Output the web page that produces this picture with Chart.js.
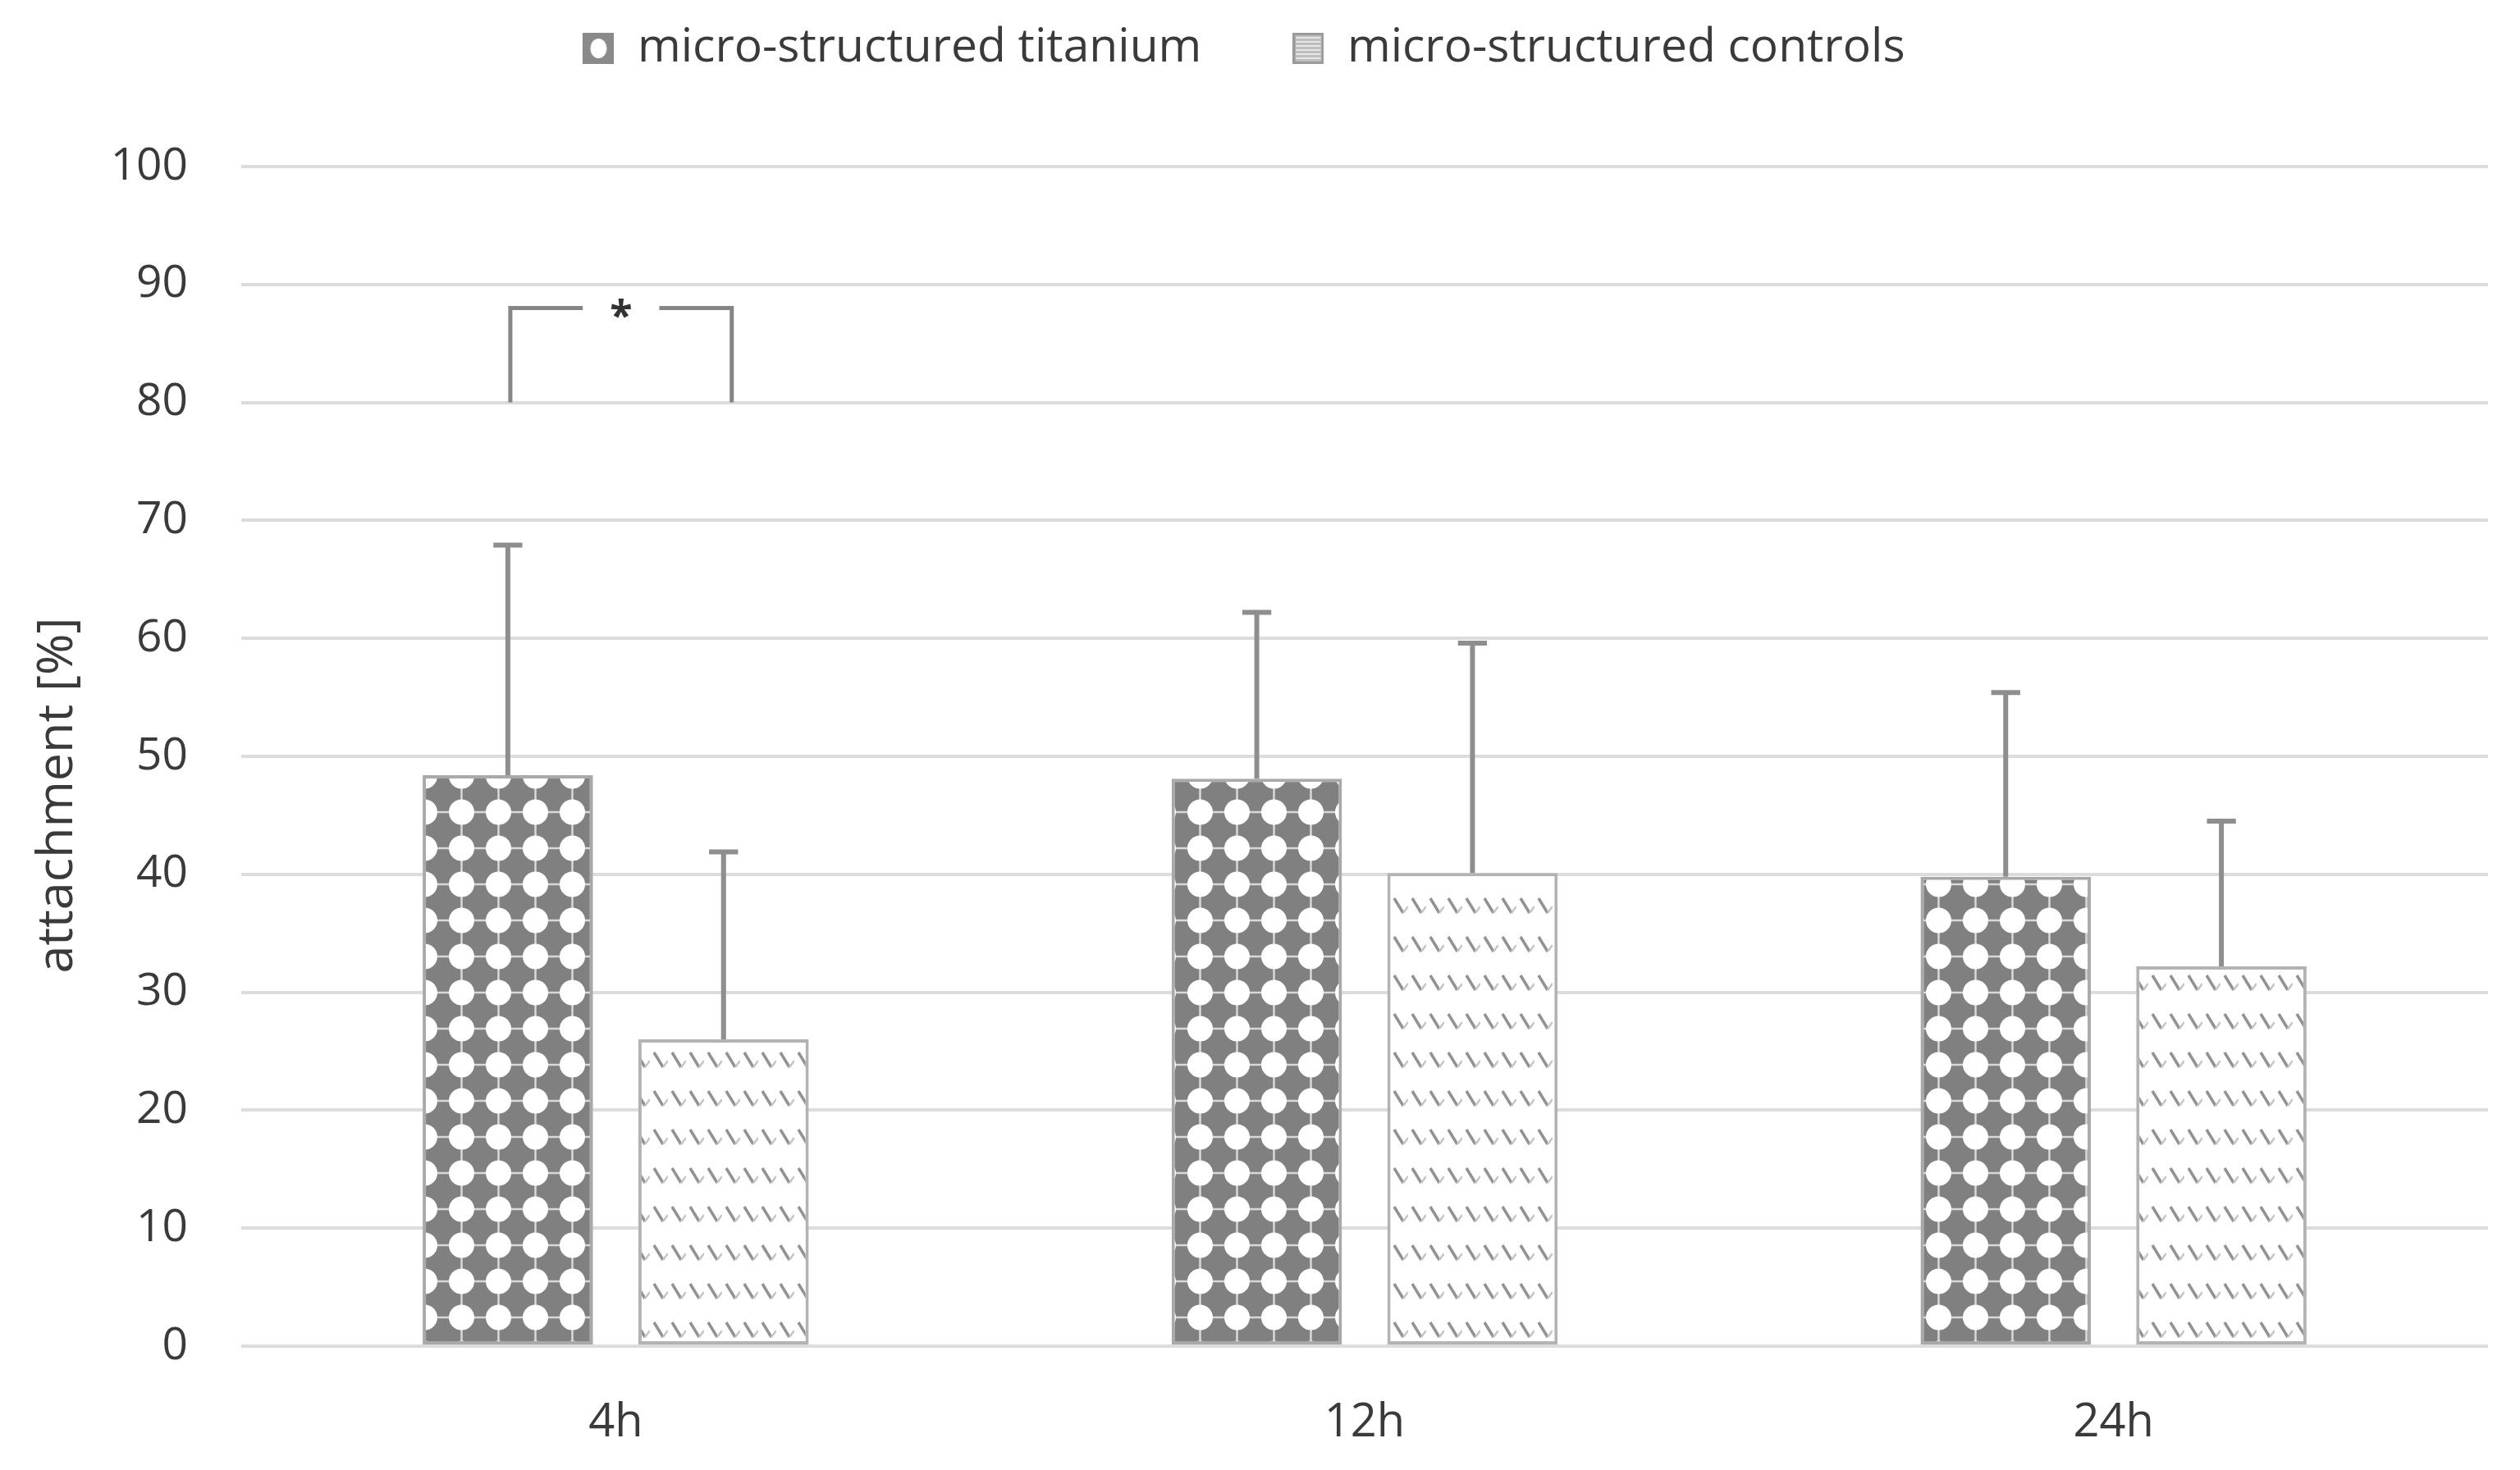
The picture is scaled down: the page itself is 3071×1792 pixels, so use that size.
<!DOCTYPE html>
<html>
<head>
<meta charset="utf-8">
<script src="https://cdn.jsdelivr.net/npm/chart.js@4.4.1/dist/chart.umd.min.js"></script>
<style>
html,body{margin:0;padding:0;background:#ffffff;}
canvas{display:block;}
</style>
</head>
<body>
<canvas id="c" width="3071" height="1792" style="width:3071px;height:1792px"></canvas>
<script>
// ---------------- data ----------------
const categories = ['4h', '12h', '24h'];
const seriesNames = ['micro-structured titanium', 'micro-structured controls'];
const titaniumMeans = [48.4, 48.1, 39.8];
const titaniumSD = [19.5, 14.1, 15.6];
const controlsMeans = [26.0, 40.1, 32.2];
const controlsSD = [15.9, 19.5, 12.3];
const yTickValues = [0, 10, 20, 30, 40, 50, 60, 70, 80, 90, 100];
const yAxisTitle = 'attachment [%]';
const significance = [
  { index: 0, fromSeries: 0, toSeries: 1, low: 80, high: 88, label: '*' }
];

// ---------------- styling ----------------
const FONT = "'Open Sans', sans-serif";
Chart.defaults.font.family = FONT;
const LEGEND_CENTER_Y = 59;
const ERR_COLOR = '#8e8e8e';

const canvas = document.getElementById('c');
const ctx = canvas.getContext('2d');

function makeTitaniumPattern() {
  const w = 45, h = 44;
  const t = document.createElement('canvas'); t.width = w; t.height = h;
  const g = t.getContext('2d');
  g.fillStyle = '#808080'; g.fillRect(0, 0, w, h);
  g.strokeStyle = 'rgba(255,255,255,0.7)'; g.lineWidth = 2.5;
  g.beginPath(); g.moveTo(0, h / 2); g.lineTo(w, h / 2); g.moveTo(w / 2, 0); g.lineTo(w / 2, h); g.stroke();
  g.fillStyle = '#ffffff';
  g.beginPath(); g.arc(w / 2, h / 2, 15.5, 0, Math.PI * 2); g.fill();
  return ctx.createPattern(t, 'repeat');
}
function makeControlsPattern() {
  const w = 22, h = 47;
  const t = document.createElement('canvas'); t.width = w; t.height = h;
  const g = t.getContext('2d');
  g.fillStyle = '#ffffff'; g.fillRect(0, 0, w, h);
  g.strokeStyle = '#929292'; g.lineWidth = 3.5;
  g.beginPath(); g.moveTo(5, 14); g.lineTo(16, 32); g.stroke();
  g.strokeStyle = '#c4c4c4'; g.lineWidth = 2.5;
  g.beginPath(); g.moveTo(16, 32); g.lineTo(22, 24); g.stroke();
  return ctx.createPattern(t, 'repeat');
}
function makeTitaniumIcon() {
  const s = 38;
  const t = document.createElement('canvas'); t.width = s; t.height = s;
  const g = t.getContext('2d');
  g.fillStyle = '#8a8a8a'; g.fillRect(0, 0, s, s);
  g.fillStyle = '#ffffff';
  g.beginPath(); g.ellipse(s / 2, s / 2, 10, 12, 0, 0, Math.PI * 2); g.fill();
  return t;
}
function makeControlsIcon() {
  const s = 38;
  const t = document.createElement('canvas'); t.width = s; t.height = s;
  const g = t.getContext('2d');
  g.fillStyle = '#bdbdbd'; g.fillRect(0, 0, s, s);
  g.strokeStyle = '#e6e6e6'; g.lineWidth = 2;
  for (let y = 6; y < s - 3; y += 5) { g.beginPath(); g.moveTo(4, y); g.lineTo(s - 4, y); g.stroke(); }
  g.strokeStyle = '#9a9a9a'; g.lineWidth = 3; g.strokeRect(1.5, 1.5, s - 3, s - 3);
  return t;
}

// ---------------- plugins ----------------
const legendShift = {
  id: 'legendShift',
  afterLayout(chart) {
    const lg = chart.legend;
    if (!lg) return;
    const pad = lg.options.labels.padding;
    const fs = lg.options.labels.font.size;
    const dy = (lg.top + pad + fs / 2) - LEGEND_CENTER_Y;
    lg.top -= dy; lg.bottom -= dy;
  }
};

const errorBars = {
  id: 'errorBars',
  afterDatasetsDraw(chart) {
    const c = chart.ctx;
    const ys = chart.scales.y;
    chart.data.datasets.forEach((ds, di) => {
      const meta = chart.getDatasetMeta(di);
      meta.data.forEach((bar, i) => {
        const top = ys.getPixelForValue(ds.data[i] + ds.errors[i]);
        const capHalf = bar.width * 0.085;
        c.save();
        c.strokeStyle = ERR_COLOR; c.lineWidth = 6; c.lineCap = 'butt';
        c.beginPath();
        c.moveTo(bar.x, bar.y); c.lineTo(bar.x, top);
        c.moveTo(bar.x - capHalf, top); c.lineTo(bar.x + capHalf, top);
        c.stroke();
        c.restore();
      });
    });
  }
};

const bracket = {
  id: 'bracket',
  afterDatasetsDraw(chart) {
    const c = chart.ctx;
    const ys = chart.scales.y;
    significance.forEach(s => {
      const x0 = chart.getDatasetMeta(s.fromSeries).data[s.index].x + 3;
      const x1 = chart.getDatasetMeta(s.toSeries).data[s.index].x + 10;
      const yl = ys.getPixelForValue(s.low);
      const yh = ys.getPixelForValue(s.high);
      const mid = (x0 + x1) / 2;
      const fs = 50;
      c.save();
      c.font = `bold ${fs}px ${FONT}`;
      const gap = c.measureText(s.label).width + 66;
      c.strokeStyle = '#858585'; c.lineWidth = 5;
      c.beginPath();
      c.moveTo(x0, yl); c.lineTo(x0, yh); c.lineTo(mid - gap / 2, yh);
      c.moveTo(mid + gap / 2, yh); c.lineTo(x1, yh); c.lineTo(x1, yl);
      c.stroke();
      c.fillStyle = '#333333'; c.textAlign = 'center'; c.textBaseline = 'alphabetic';
      c.fillText(s.label, mid, yh + fs * 0.52);
      c.restore();
    });
  }
};

// ---------------- chart ----------------
const titaniumIcon = makeTitaniumIcon();
const controlsIcon = makeControlsIcon();

new Chart(ctx, {
  type: 'bar',
  data: {
    labels: categories,
    datasets: [
      {
        label: seriesNames[0], data: titaniumMeans, errors: titaniumSD, icon: titaniumIcon,
        backgroundColor: makeTitaniumPattern(), borderColor: '#a9a9a9', borderWidth: 4, borderSkipped: false,
        categoryPercentage: 0.576, barPercentage: 0.79
      },
      {
        label: seriesNames[1], data: controlsMeans, errors: controlsSD, icon: controlsIcon,
        backgroundColor: makeControlsPattern(), borderColor: '#b3b3b3', borderWidth: 4, borderSkipped: false,
        categoryPercentage: 0.576, barPercentage: 0.79
      }
    ]
  },
  options: {
    responsive: false, animation: false, devicePixelRatio: 1,
    layout: { padding: { top: 25, right: 39, bottom: 0, left: 0 } },
    plugins: {
      legend: {
        position: 'top',
        labels: {
          usePointStyle: true, boxWidth: 38, boxHeight: 38, padding: 111,
          font: { size: 57 }, color: '#3a3a3a',
          generateLabels(chart) {
            return chart.data.datasets.map((ds, i) => ({
              text: ds.label, pointStyle: ds.icon, fillStyle: '#ffffff', strokeStyle: '#ffffff',
              lineWidth: 0, hidden: false, datasetIndex: i, fontColor: '#3a3a3a'
            }));
          }
        }
      },
      tooltip: { enabled: false }
    },
    scales: {
      x: {
        grid: { display: false }, border: { display: false },
        ticks: { font: { size: 56 }, color: '#3a3a3a', padding: 52 },
        afterFit(s) { s.height = 151; }
      },
      y: {
        min: 0, max: 100,
        afterBuildTicks(s) { s.ticks = yTickValues.map(v => ({ value: v })); },
        ticks: { font: { size: 55 }, color: '#3a3a3a', padding: 65 },
        grid: { color: '#dcdcdc', lineWidth: 4, drawTicks: false },
        border: { display: false },
        title: { display: true, text: yAxisTitle + '      ', font: { size: 61 }, color: '#3a3a3a', padding: { top: 34, bottom: 0 } },
        afterFit(s) { s.width = 294; }
      }
    }
  },
  plugins: [legendShift, errorBars, bracket]
});
</script>
</body>
</html>
